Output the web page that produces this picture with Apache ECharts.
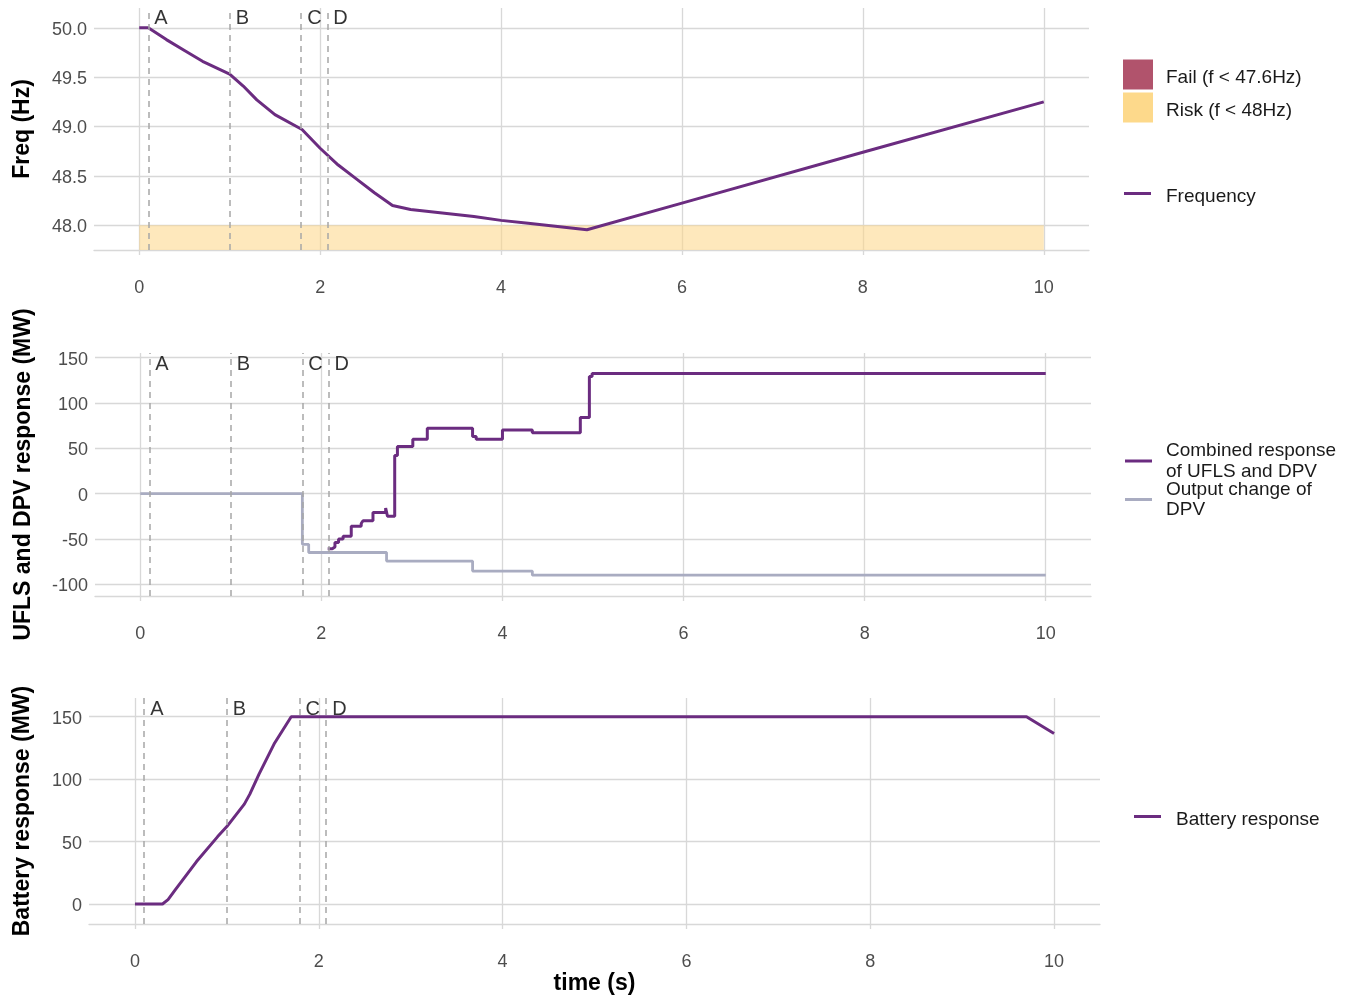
<!DOCTYPE html>
<html>
<head>
<meta charset="utf-8">
<title>Frequency, UFLS/DPV and battery response</title>
<script src="https://cdn.jsdelivr.net/npm/echarts@6/dist/echarts.min.js"></script>
<style>
  html, body { margin: 0; padding: 0; background: #ffffff; }
  #chart { width: 1352px; height: 996px; }
</style>
</head>
<body>
<div id="chart"></div>
<script>
// ---- data ----
const X_TICKS = [0, 2, 4, 6, 8, 10];
const FREQ_TICKS = [48, 48.5, 49, 49.5, 50];
const RESPONSE_TICKS = [-100, -50, 0, 50, 100, 150];
const BATTERY_TICKS = [0, 50, 100, 150];

const EVENT_LABELS = ['A', 'B', 'C', 'D'];
const EVENT_TIMES = [0.1, 1.0, 1.79, 2.08];

const FAIL_HZ = 47.6;
const RISK_HZ = 48;

const FREQ_TIME = [0, 0.1, 0.3, 0.5, 0.7, 1.0, 1.15, 1.3, 1.5, 1.8, 2.0, 2.2, 2.4, 2.6, 2.8,
                   3.0, 3.2, 3.5, 3.7, 4.0, 4.3, 4.6, 4.95, 6, 8, 10];
const FREQ_HZ = [50.0, 50.0, 49.88, 49.77, 49.66, 49.53, 49.41, 49.27, 49.12, 48.97, 48.78,
                 48.61, 48.47, 48.33, 48.20, 48.16, 48.14, 48.11, 48.09, 48.05, 48.02, 47.99,
                 47.955, 48.225, 48.74, 49.25];

const COMBINED_TIME = [2.07, 2.12, 2.15, 2.19, 2.24, 2.33, 2.44, 2.46, 2.57, 2.71, 2.73, 2.81,
                       2.84, 3.01, 3.17, 3.67, 3.71, 4.00, 4.33, 4.86, 4.96, 4.99, 10];
const COMBINED_MW = [-61, -59, -54, -50, -47, -36, -33, -30, -21, -16, -25, 42, 52, 60, 72,
                     63, 60, 70, 67, 84, 129, 132.5, 132.5];

const DPV_TIME = [0, 1.79, 1.86, 2.72, 3.67, 4.33, 10];
const DPV_MW = [0, -56, -65, -74.5, -85.5, -90, -90];

const BATTERY_TIME = [0, 0.3, 0.36, 0.44, 0.67, 0.9, 1.0, 1.19, 1.25, 1.35, 1.52, 1.7, 9.7, 10];
const BATTERY_MW = [0, 0, 3.5, 11.5, 34, 54, 62, 80, 88, 104, 129, 150, 150, 136.5];

// ---- styling ----
const FONT = "'Liberation Sans', Arial, Helvetica, sans-serif";
const GRID_COLOR = '#d8d8d8';
const PURPLE = '#6b2c80';
const GREY_LINE = '#a9acc1';
const DASH_COLOR = '#a6a6a6';
const TICK_TEXT = { fontSize: 18, color: '#4d4d4d', fontFamily: FONT };

const zip = (xs, ys) => xs.map((x, i) => [x, ys[i]]);

function xAxisFor(gridIndex, extra) {
  return Object.assign({
    type: 'value', gridIndex: gridIndex, min: -0.5, max: 10.5,
    axisLine: { show: true, onZero: false, lineStyle: { color: GRID_COLOR, width: 1.3 } },
    axisTick: { show: true, length: 5, customValues: X_TICKS, lineStyle: { color: GRID_COLOR, width: 1.3 } },
    axisLabel: Object.assign({ customValues: X_TICKS, margin: 29 }, TICK_TEXT),
    splitLine: { show: true, lineStyle: { color: GRID_COLOR, width: 1.3 } }
  }, extra || {});
}

function yAxisFor(gridIndex, min, max, ticks, name, nameGap, fmt) {
  const f = fmt || (v => String(v));
  return {
    type: 'value', gridIndex: gridIndex, min: min, max: max,
    axisLine: { show: false },
    axisTick: { show: false, customValues: ticks },
    axisLabel: Object.assign({
      customValues: ticks, margin: 7,
      formatter: v => '{v|' + f(v) + '}',
      rich: { v: Object.assign({ padding: [4, 0, 0, 0] }, TICK_TEXT) }
    }, TICK_TEXT),
    splitLine: { show: true, lineStyle: { color: GRID_COLOR, width: 1.3 } },
    name: name, nameLocation: 'middle', nameGap: nameGap,
    nameTextStyle: { fontSize: 23, fontWeight: 'bold', color: '#000000', fontFamily: FONT }
  };
}

function eventLines() {
  return {
    silent: true, symbol: 'none', animation: false,
    label: { show: false },
    lineStyle: { color: DASH_COLOR, type: [6, 5], width: 1.5 },
    data: EVENT_TIMES.map(t => ({ xAxis: t }))
  };
}

function eventLetters(gridIndex, y) {
  return {
    type: 'scatter', xAxisIndex: gridIndex, yAxisIndex: gridIndex, silent: true,
    symbolSize: 0, z: 5,
    data: EVENT_TIMES.map((t, i) => [t, y, EVENT_LABELS[i]]),
    label: { show: true, position: 'right', distance: 6, formatter: p => p.value[2],
             fontSize: 20, color: '#000000', fontFamily: FONT }
  };
}

// legend text: optional downward nudge on the first line, all lines indented from the key
function legendText(indent, nudge, lineHeight) {
  const base = { fontSize: 19, color: '#1a1a1a', fontFamily: FONT, lineHeight: lineHeight };
  return {
    formatter: name => name.split('\n')
      .map((s, i) => (i === 0 ? '{f|' : '{n|') + s + '}').join('\n'),
    textStyle: Object.assign({
      rich: {
        f: Object.assign({ padding: [nudge, 0, 0, indent] }, base),
        n: Object.assign({ padding: [0, 0, 0, indent] }, base)
      }
    }, base)
  };
}

function lineLegend(name, left, top, indent, nudge, lineHeight) {
  return Object.assign({
    data: [name], left: left, top: top, orient: 'vertical', padding: 0,
    icon: 'rect', itemWidth: 27, itemHeight: 3, selectedMode: false,
    itemStyle: { borderWidth: 0 }
  }, legendText(indent, nudge, lineHeight));
}

const option = {
  animation: false,
  backgroundColor: '#ffffff',
  grid: [
    { left: 94, width: 995, top: 8, height: 242 },
    { left: 95, width: 996, top: 353, height: 243 },
    { left: 89, width: 1011, top: 698, height: 226 }
  ],
  xAxis: [
    xAxisFor(0),
    xAxisFor(1),
    xAxisFor(2, { name: 'time (s)', nameLocation: 'middle', nameGap: 48,
                  nameTextStyle: { fontSize: 23, fontWeight: 'bold', color: '#000000', fontFamily: FONT } })
  ],
  yAxis: [
    yAxisFor(0, 47.75, 50.2, FREQ_TICKS, 'Freq (Hz)', 60, v => v.toFixed(1)),
    yAxisFor(1, -113, 155, RESPONSE_TICKS, 'UFLS and DPV response (MW)', 60),
    yAxisFor(2, -16, 165, BATTERY_TICKS, 'Battery response (MW)', 55)
  ],
  legend: [
    Object.assign({
      data: ['Fail (f < 47.6Hz)', 'Risk (f < 48Hz)'], left: 1123, top: 59.5, orient: 'vertical',
      padding: 0, icon: 'rect', itemWidth: 30, itemHeight: 30, itemGap: 3, selectedMode: false,
      itemStyle: { borderWidth: 0 }
    }, legendText(8, 6, 20)),
    lineLegend('Frequency', 1124, 181, 10, 6, 20),
    lineLegend('Combined response\nof UFLS and DPV', 1125, 440, 9, 0, 21),
    lineLegend('Output change of\nDPV', 1125, 479.5, 9, 0, 20),
    lineLegend('Battery response', 1134, 804, 10, 6, 20)
  ],
  series: [
    {
      name: 'Fail (f < 47.6Hz)', type: 'line', xAxisIndex: 0, yAxisIndex: 0, silent: true,
      symbol: 'none', data: [[0, FAIL_HZ], [10, FAIL_HZ]],
      itemStyle: { color: '#b1536c' }, lineStyle: { width: 0 },
      areaStyle: { origin: 'start', color: 'rgba(168, 62, 94, 0.85)' }
    },
    {
      name: 'Risk (f < 48Hz)', type: 'line', xAxisIndex: 0, yAxisIndex: 0, silent: true,
      symbol: 'none', data: [[0, RISK_HZ], [10, RISK_HZ]],
      itemStyle: { color: '#fdd98b' }, lineStyle: { width: 0 },
      areaStyle: { origin: 'start', color: 'rgba(253, 214, 136, 0.8)' }
    },
    {
      name: 'Frequency', type: 'line', xAxisIndex: 0, yAxisIndex: 0, z: 4,
      symbol: 'none', data: zip(FREQ_TIME, FREQ_HZ),
      itemStyle: { color: PURPLE }, lineStyle: { color: PURPLE, width: 3 },
      markLine: eventLines()
    },
    eventLetters(0, 50.095),
    {
      name: 'Output change of\nDPV', type: 'line', xAxisIndex: 1, yAxisIndex: 1, z: 3,
      symbol: 'none', step: 'end', data: zip(DPV_TIME, DPV_MW),
      itemStyle: { color: GREY_LINE }, lineStyle: { color: GREY_LINE, width: 2.8 },
      markLine: eventLines()
    },
    {
      name: 'Combined response\nof UFLS and DPV', type: 'line', xAxisIndex: 1, yAxisIndex: 1, z: 4,
      symbol: 'none', step: 'end', data: zip(COMBINED_TIME, COMBINED_MW),
      itemStyle: { color: PURPLE }, lineStyle: { color: PURPLE, width: 3 }
    },
    eventLetters(1, 142),
    {
      name: 'Battery response', type: 'line', xAxisIndex: 2, yAxisIndex: 2, z: 4,
      symbol: 'none', data: zip(BATTERY_TIME, BATTERY_MW),
      itemStyle: { color: PURPLE }, lineStyle: { color: PURPLE, width: 3 },
      markLine: eventLines()
    },
    eventLetters(2, 156.2)
  ]
};

const chart = echarts.init(document.getElementById('chart'), null, { renderer: 'canvas' });
chart.setOption(option);
</script>
</body>
</html>
